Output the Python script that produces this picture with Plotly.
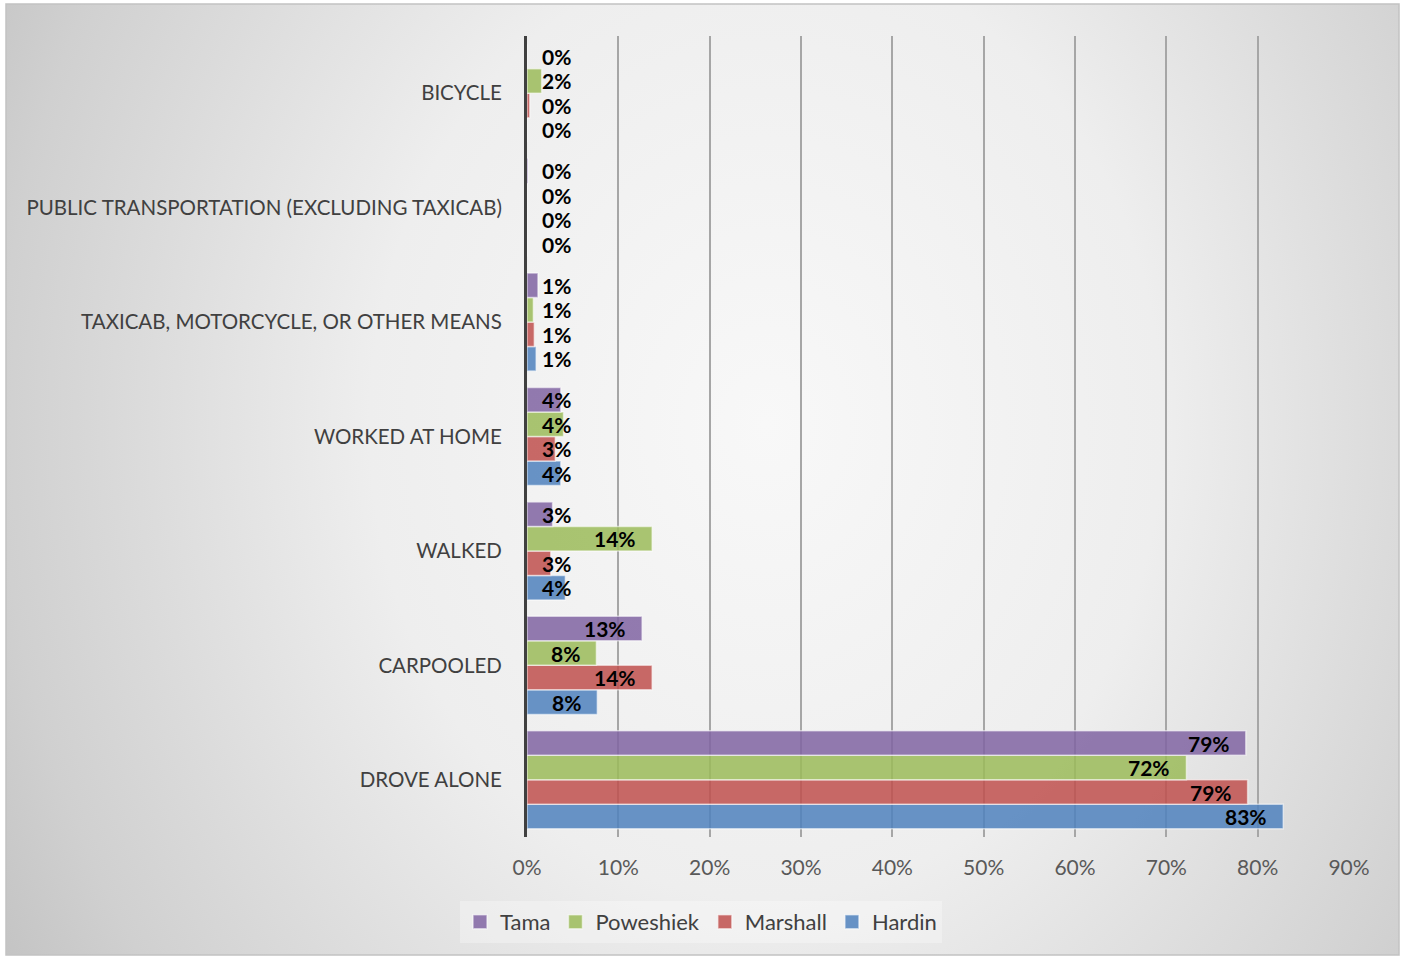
import base64
import plotly.graph_objects as go

# Means of transportation to work, share of workers by county
categories = [
    "DROVE ALONE",
    "CARPOOLED",
    "WALKED",
    "WORKED AT HOME",
    "TAXICAB, MOTORCYCLE, OR OTHER MEANS",
    "PUBLIC TRANSPORTATION (EXCLUDING TAXICAB)",
    "BICYCLE",
]
tama = [0.787, 0.126, 0.028, 0.037, 0.012, 0.001, 0.0]
poweshiek = [0.722, 0.076, 0.137, 0.040, 0.007, 0.0, 0.016]
marshall = [0.789, 0.137, 0.026, 0.031, 0.008, 0.0, 0.003]
hardin = [0.828, 0.077, 0.042, 0.037, 0.010, 0.0, 0.0]
x_ticks = [0, 0.1, 0.2, 0.3, 0.4, 0.5, 0.6, 0.7, 0.8, 0.9]

# drawn bottom-to-top inside each group
series = [
    ("Hardin", hardin, "rgba(79,129,189,0.85)"),
    ("Marshall", marshall, "rgba(192,80,77,0.85)"),
    ("Poweshiek", poweshiek, "rgba(155,187,89,0.85)"),
    ("Tama", tama, "rgba(128,100,162,0.85)"),
]

W, H = 1403, 956
L, R, T, B = 527, 54, 36, 119
PW, PH = W - L - R, H - T - B

group_width = 0.857
bar_w = group_width / len(series)
edge = "rgba(255,255,255,0.55)"

fig = go.Figure()
annotations = []
for k, (name, vals, color) in enumerate(series):
    offset = (k - (len(series) - 1) / 2) * bar_w
    ys = [i + offset for i in range(len(categories))]
    fig.add_trace(go.Bar(
        name=name, x=vals, y=ys, orientation="h", width=bar_w,
        marker=dict(color=color, line=dict(color=edge, width=1.5)),
        hoverinfo="skip", showlegend=False,
    ))
    # legend swatch
    fig.add_trace(go.Scatter(
        name=name, x=[None], y=[None], mode="markers",
        marker=dict(symbol="square", size=14, color=color,
                    line=dict(color=edge, width=1.5)),
        hoverinfo="skip", showlegend=True,
    ))
    for v, y in zip(vals, ys):
        annotations.append(dict(
            x=max(v, 0.066), y=y, xref="x", yref="y",
            text=f"<b>{round(v * 100)}%</b>", showarrow=False,
            xanchor="right", yanchor="middle", xshift=-14,
            font=dict(family="Lato", size=21, color="#000000"),
        ))

# soft radial background of the chart frame
fx0, fy0, fx1, fy1 = 6, 4, 1399, 955
fw, fh = fx1 - fx0, fy1 - fy0
svg = f'''<svg xmlns="http://www.w3.org/2000/svg" width="{fw}" height="{fh}" viewBox="0 0 {fw} {fh}" preserveAspectRatio="none">
<defs><radialGradient id="g" gradientUnits="userSpaceOnUse" cx="760" cy="420" r="880"
 gradientTransform="translate(760 420) scale(1 1.2) translate(-760 -420)">
<stop offset="0" stop-color="#f8f8f8"/>
<stop offset="0.45" stop-color="#eeeeee"/>
<stop offset="0.7" stop-color="#dcdcdc"/>
<stop offset="0.87" stop-color="#d0d0d0"/>
<stop offset="1" stop-color="#c4c4c4"/>
</radialGradient></defs>
<rect x="0" y="0" width="{fw}" height="{fh}" fill="url(#g)"/>
</svg>'''
src = "data:image/svg+xml;base64," + base64.b64encode(svg.encode()).decode()


def px_to_paper_x(px):
    return (px - L) / PW


def px_to_paper_y(py):
    return 1 - (py - T) / PH


fig.add_layout_image(dict(
    source=src, xref="paper", yref="paper",
    x=px_to_paper_x(fx0), y=px_to_paper_y(fy0),
    sizex=fw / PW, sizey=fh / PH, sizing="stretch",
    xanchor="left", yanchor="top", layer="below",
))

fig.add_shape(type="rect", xref="paper", yref="paper",
              x0=px_to_paper_x(fx0), x1=px_to_paper_x(fx1),
              y0=px_to_paper_y(fy1), y1=px_to_paper_y(fy0),
              line=dict(color="#c2c2c2", width=1.5), layer="below")

fig.update_layout(
    width=W, height=H,
    margin=dict(l=L, r=R, t=T, b=B, pad=0),
    paper_bgcolor="#ffffff",
    plot_bgcolor="rgba(0,0,0,0)",
    barmode="overlay",
    font=dict(family="Lato", color="#404040"),
    showlegend=True,
    legend=dict(
        orientation="h",
        x=px_to_paper_x(701), xanchor="center",
        y=px_to_paper_y(922), yanchor="middle",
        bgcolor="rgba(255,255,255,0.3)",
        font=dict(family="Lato", size=22, color="#404040"),
        itemclick=False, itemdoubleclick=False,
        traceorder="reversed",
    ),
    annotations=annotations,
)
fig.update_xaxes(
    range=[0, 0.9], tickvals=x_ticks, tickformat=".0%",
    showgrid=True, gridcolor="#a6a6a6", gridwidth=1.5,
    zeroline=False, showline=False, ticks="",
    ticklabelstandoff=16,
    tickfont=dict(family="Lato", size=21, color="#595959"),
    fixedrange=True,
)
fig.update_yaxes(
    range=[-0.5, len(categories) - 0.5],
    tickvals=list(range(len(categories))), ticktext=categories,
    showgrid=False, zeroline=False,
    showline=True, linecolor="#404040", linewidth=3,
    ticks="", ticklabelstandoff=18,
    tickfont=dict(family="Lato", size=20.5, color="#404040"),
    fixedrange=True,
)

fig.write_html("out.html")
